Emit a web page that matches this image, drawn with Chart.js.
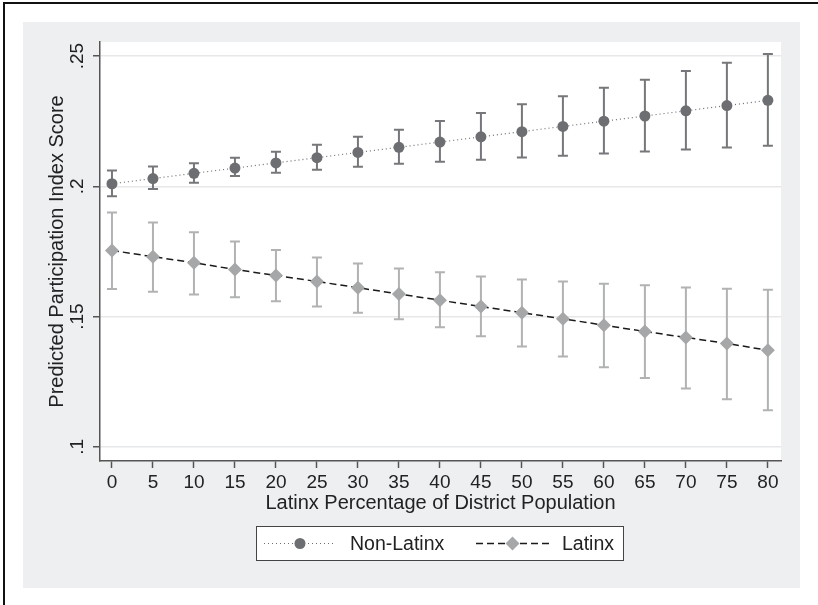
<!DOCTYPE html>
<html>
<head>
<meta charset="utf-8">
<script src="https://cdn.jsdelivr.net/npm/chart.js@4/dist/chart.umd.min.js"></script>
<style>
  html, body { margin: 0; padding: 0; background: #ffffff; }
  canvas { display: block; }
</style>
</head>
<body>
<canvas id="chart" width="818" height="605"></canvas>
<script>
// Latinx share of district population (x axis)
const xValues = [0, 5, 10, 15, 20, 25, 30, 35, 40, 45, 50, 55, 60, 65, 70, 75, 80];

// predicted scores and 95% CIs
const nonLatinx     = [0.201, 0.203, 0.205, 0.207, 0.209, 0.211, 0.213, 0.215, 0.217, 0.219, 0.221, 0.223, 0.225, 0.227, 0.229, 0.231, 0.233];
const nonLatinxLow  = [0.1962, 0.1990, 0.2014, 0.2040, 0.2052, 0.2064, 0.2075, 0.2087, 0.2094, 0.2102, 0.2111, 0.2117, 0.2126, 0.2134, 0.2141, 0.2149, 0.2156];
const nonLatinxHigh = [0.2061, 0.2076, 0.2089, 0.2110, 0.2133, 0.2160, 0.2190, 0.2217, 0.2251, 0.2282, 0.2315, 0.2346, 0.2378, 0.2409, 0.2443, 0.2474, 0.2508];

const latinx     = [0.1754, 0.1730, 0.1707, 0.1681, 0.1658, 0.1635, 0.1611, 0.1587, 0.1563, 0.1539, 0.1515, 0.1492, 0.1467, 0.1443, 0.1420, 0.1397, 0.1371];
const latinxLow  = [0.1606, 0.1596, 0.1585, 0.1574, 0.1559, 0.1539, 0.1515, 0.1490, 0.1459, 0.1425, 0.1385, 0.1347, 0.1306, 0.1265, 0.1224, 0.1183, 0.1141];
const latinxHigh = [0.1900, 0.1861, 0.1824, 0.1788, 0.1756, 0.1727, 0.1704, 0.1685, 0.1670, 0.1654, 0.1643, 0.1635, 0.1626, 0.1620, 0.1612, 0.1607, 0.1603];

const yTicks = [0.1, 0.15, 0.2, 0.25];
const yTickLabels = ['.1', '.15', '.2', '.25'];

const FONT = '"Liberation Sans", Arial, Helvetica, sans-serif';
const TEXT = '#222222';

Chart.defaults.font.family = FONT;
Chart.defaults.font.size = 19;
Chart.defaults.color = TEXT;

const toPoints = (vals) => xValues.map((x, i) => ({ x: x, y: vals[i] }));

// page frame, grey panel and white plot region
const background = {
    id: 'background',
    beforeDraw(chart) {
        const { ctx, chartArea } = chart;
        ctx.save();
        ctx.fillStyle = '#ffffff';
        ctx.fillRect(0, 0, chart.width, chart.height);
        ctx.fillStyle = '#eeeff1';
        ctx.fillRect(23, 22, 777, 566);
        ctx.fillStyle = '#ffffff';
        ctx.fillRect(chartArea.left, chartArea.top, chartArea.right - chartArea.left, chartArea.bottom - chartArea.top);
        ctx.strokeStyle = '#111111';
        ctx.lineWidth = 2;
        ctx.beginPath();
        ctx.moveTo(4, chart.height);
        ctx.lineTo(4, 3);
        ctx.lineTo(chart.width, 3);
        ctx.stroke();
        ctx.restore();
    }
};

// confidence interval caps, drawn under the markers
const errorBars = {
    id: 'errorBars',
    beforeDatasetsDraw(chart) {
        const { ctx, scales: { x, y } } = chart;
        ctx.save();
        chart.data.datasets.forEach(ds => {
            ctx.strokeStyle = ds.barColor;
            ctx.lineWidth = 2;
            ds.low.forEach((lo, i) => {
                const px = x.getPixelForValue(xValues[i]);
                const yLo = y.getPixelForValue(lo);
                const yHi = y.getPixelForValue(ds.high[i]);
                ctx.beginPath();
                ctx.moveTo(px, yLo);
                ctx.lineTo(px, yHi);
                ctx.moveTo(px - 5, yLo);
                ctx.lineTo(px + 5, yLo);
                ctx.moveTo(px - 5, yHi);
                ctx.lineTo(px + 5, yHi);
                ctx.stroke();
            });
        });
        ctx.restore();
    }
};

// rotated y tick labels and the boxed legend
const extras = {
    id: 'extras',
    afterDraw(chart) {
        const { ctx, scales: { y } } = chart;
        ctx.save();
        ctx.fillStyle = TEXT;
        ctx.font = '19px ' + FONT;
        ctx.textAlign = 'center';
        ctx.textBaseline = 'middle';
        y.ticks.forEach((t) => {
            ctx.save();
            ctx.translate(78, y.getPixelForValue(t.value));
            ctx.rotate(-Math.PI / 2);
            ctx.fillText(yTickLabels[yTicks.indexOf(t.value)], 0, 0);
            ctx.restore();
        });

        // legend box
        ctx.fillStyle = '#ffffff';
        ctx.fillRect(256, 526, 368, 35);
        ctx.strokeStyle = '#444444';
        ctx.lineWidth = 1;
        ctx.strokeRect(256.5, 526.5, 367, 34);

        const items = [
            { x0: 264, x1: 336, tx: 350 },
            { x0: 476, x1: 549, tx: 562 }
        ];
        chart.data.datasets.forEach((ds, i) => {
            const it = items[i];
            const cy = 543.5;
            ctx.strokeStyle = ds.borderColor;
            ctx.lineWidth = ds.borderWidth;
            ctx.setLineDash(ds.borderDash);
            ctx.beginPath();
            ctx.moveTo(it.x0, cy);
            ctx.lineTo(it.x1, cy);
            ctx.stroke();
            ctx.setLineDash([]);
            ctx.fillStyle = ds.pointBackgroundColor;
            Chart.helpers.drawPoint(ctx, { pointStyle: ds.pointStyle, radius: ds.pointRadius, rotation: 0, borderWidth: 0 }, (it.x0 + it.x1) / 2, cy);
            ctx.fillStyle = TEXT;
            ctx.textAlign = 'left';
            ctx.font = '19.5px ' + FONT;
            ctx.fillText(ds.label, it.tx, cy + 1);
        });
        ctx.restore();
    }
};

new Chart(document.getElementById('chart'), {
    type: 'line',
    data: {
        datasets: [
            {
                label: 'Non-Latinx',
                data: toPoints(nonLatinx),
                low: nonLatinxLow,
                high: nonLatinxHigh,
                barColor: '#76777a',
                borderColor: '#6d6e71',
                borderWidth: 1.2,
                borderDash: [1, 3],
                pointStyle: 'circle',
                pointRadius: 5.5,
                pointBackgroundColor: '#6d6e71',
                pointBorderWidth: 0,
                tension: 0
            },
            {
                label: 'Latinx',
                data: toPoints(latinx),
                low: latinxLow,
                high: latinxHigh,
                barColor: '#b1b2b4',
                borderColor: '#1a1a1a',
                borderWidth: 1.5,
                borderDash: [7, 4],
                pointStyle: 'rectRot',
                pointRadius: 7,
                pointBackgroundColor: '#a6a7a9',
                pointBorderWidth: 0,
                tension: 0
            }
        ]
    },
    options: {
        responsive: false,
        animation: false,
        layout: { padding: { left: 0, right: 37, top: 42, bottom: 0 } },
        plugins: {
            legend: { display: false },
            tooltip: { enabled: false }
        },
        scales: {
            x: {
                type: 'linear',
                min: -1.46,
                max: 81.6,
                afterFit: (s) => { s.height = 144; },
                afterBuildTicks: (s) => { s.ticks = xValues.map(v => ({ value: v })); },
                ticks: { color: TEXT, padding: 3, maxRotation: 0, font: { size: 19 } },
                grid: { drawOnChartArea: false, drawTicks: true, tickLength: 7, tickColor: '#555555', tickWidth: 1.5 },
                border: { color: '#555555', width: 1.5 },
                title: {
                    display: true,
                    text: 'Latinx Percentage of District Population',
                    color: TEXT,
                    font: { size: 20 },
                    padding: { bottom: 90 }
                }
            },
            y: {
                min: 0.0946,
                max: 0.2554,
                afterFit: (s) => { s.width = 100; },
                afterBuildTicks: (s) => { s.ticks = yTicks.map(v => ({ value: v })); },
                ticks: { display: false },
                grid: { color: '#e6e7e9', lineWidth: 1.5, drawTicks: true, tickLength: 7, tickColor: '#555555', tickWidth: 1.5 },
                border: { color: '#555555', width: 1.5 },
                title: {
                    display: true,
                    text: 'Predicted Participation Index Score',
                    color: TEXT,
                    font: { size: 20 },
                    padding: { top: 45 }
                }
            }
        }
    },
    plugins: [background, errorBars, extras]
});
</script>
</body>
</html>
